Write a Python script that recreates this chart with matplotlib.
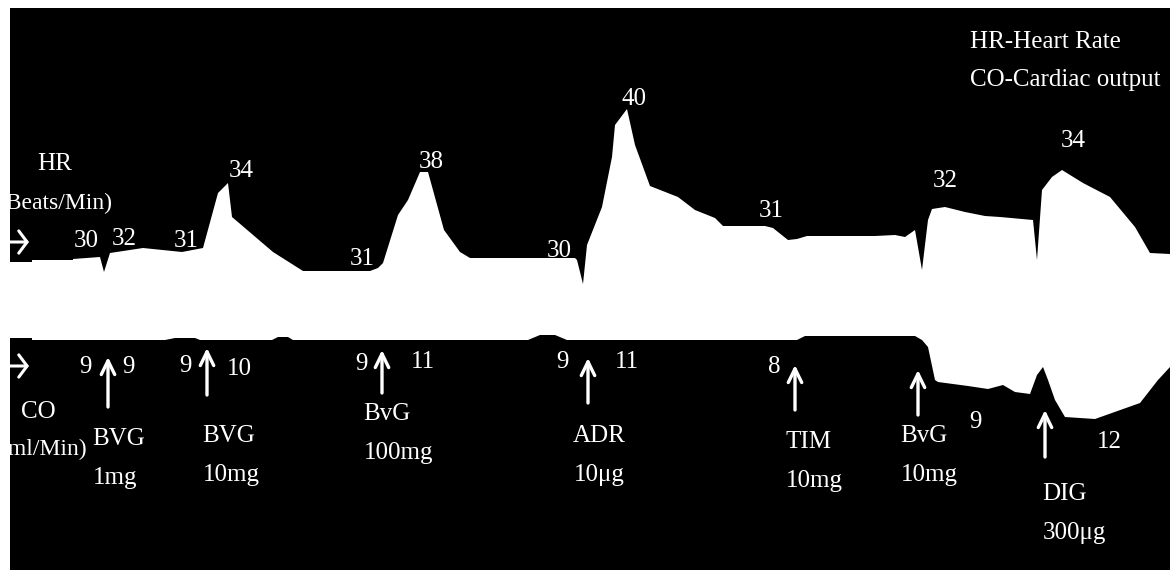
import matplotlib
matplotlib.use("Agg")
import matplotlib.pyplot as plt
import numpy as np

# ---------------- data (trace) ----------------
# time axis of the chart recorder (arbitrary units) and trace level (recorder units, top = 8, bottom = 570)
hr_time = [10, 32, 32, 73, 73, 100, 104, 110, 143, 182, 203, 218, 228, 232, 273, 303,
           370, 378, 383, 398, 408, 420, 428, 444, 460, 470, 575, 577, 583, 587, 602,
           612, 615, 627, 635, 650, 678, 695, 715, 723, 765, 773, 788, 797, 807, 875,
           895, 905, 915, 922, 928, 932, 945, 965, 985, 1000, 1033, 1037, 1042, 1052,
           1062, 1083, 1110, 1135, 1150, 1170]
hr_level = [262, 262, 260, 260, 259, 257, 272, 253, 248, 252, 248, 193, 183, 217, 252, 271,
            271, 268, 263, 215, 200, 172, 172, 230, 252, 258, 258, 260, 284, 245, 207,
            157, 125, 109, 145, 186, 197, 210, 218, 226, 226, 228, 240, 239, 236, 236,
            235, 237, 230, 270, 220, 209, 207, 212, 216, 217, 220, 260, 190, 177,
            170, 183, 197, 227, 253, 254]

co_time = [10, 32, 32, 165, 175, 195, 200, 272, 278, 288, 293, 528, 540, 555, 567, 797,
           805, 915, 922, 928, 935, 938, 968, 988, 1003, 1015, 1030, 1037, 1043, 1048,
           1055, 1065, 1095, 1140, 1158, 1170]
co_level = [338, 338, 340, 340, 338, 338, 340, 340, 337, 337, 340, 340, 335, 335, 340, 340,
            336, 336, 340, 347, 380, 382, 386, 389, 385, 392, 394, 375, 367, 380,
            400, 417, 419, 403, 380, 367]

hr_values = ["30", "32", "31", "34", "31", "38", "30", "40", "31", "32", "34"]
co_values = ["9", "9", "9", "10", "9", "11", "9", "11", "8", "9", "12"]
drugs = ["BVG\n1mg", "BVG\n10mg", "BvG\n100mg", "ADR\n10μg", "TIM\n10mg", "BvG\n10mg", "DIG\n300μg"]

# ---------------- layout ----------------
hr_pos = [(86, 247), (124, 245), (186, 247), (241, 177), (362, 265), (431, 168),
          (559, 257), (634, 105), (771, 217), (945, 187), (1073, 147)]
co_pos = [(85, 373), (128, 373), (185, 372), (239, 375), (361, 370), (423, 368),
          (562, 368), (627, 368), (774, 373), (975, 428), (1109, 448)]
drug_text = [(92, 445), (202, 442), (363, 420), (573, 442), (785, 448), (900, 442), (1042, 500)]
drug_arrow = [(108, 407, 357), (207, 395, 348), (382, 393, 350), (588, 403, 358),
              (795, 410, 365), (918, 415, 370), (1045, 457, 410)]

W, H = 1170, 570
fig = plt.figure(figsize=(W / 100, H / 100), dpi=100, facecolor="white")
ax = fig.add_axes([10 / W, 0, (W - 10) / W, (H - 8) / H])
ax.set_facecolor("black")
ax.set_xlim(10, 1170)
ax.set_ylim(570, 8)
ax.set_xticks([])
ax.set_yticks([])
for s in ax.spines.values():
    s.set_visible(False)

# white band between HR trace (top) and CO trace (bottom)
poly_x = np.concatenate([hr_time, co_time[::-1]])
poly_y = np.concatenate([hr_level, co_level[::-1]])
ax.fill(poly_x, poly_y, color="white", lw=0)

FONT = "Liberation Serif"
FS = 18
kw = dict(color="white", family=FONT, fontsize=FS)

for t, (x, y) in zip(hr_values, hr_pos):
    ax.text(x, y, t, ha="center", va="baseline", **kw)
for t, (x, y) in zip(co_values, co_pos):
    ax.text(x, y, t, ha="center", va="baseline", **kw)

for t, (x, y) in zip(drugs, drug_text):
    name, dose = t.split("\n")
    ax.text(x, y, name, ha="left", va="baseline", **kw)
    ax.text(x + 1, y + 39, dose, ha="left", va="baseline", **kw)

arrow_kw = dict(arrowstyle="->,head_length=0.45,head_width=0.22", color="white", lw=2.4,
                shrinkA=0, shrinkB=0, mutation_scale=22)
for x, y0, y1 in drug_arrow:
    ax.annotate("", xy=(x, y1), xytext=(x, y0), arrowprops=arrow_kw)

# axis labels on the left (partly cut by the frame, as in the original)
side_kw = dict(color="white", family=FONT, fontsize=17)
ax.text(55, 170, "HR", ha="center", va="baseline", **kw)
ax.text(112, 209, "(Beats/Min)", ha="right", va="baseline", clip_on=True, **side_kw)
ax.text(38, 418, "CO", ha="center", va="baseline", **kw)
ax.text(87, 455, "(ml/Min)", ha="right", va="baseline", clip_on=True, **side_kw)
for yy in (242, 366):
    ann = ax.annotate("", xy=(29, yy), xytext=(2, yy),
                      arrowprops=dict(arrowstyle="->,head_length=0.3,head_width=0.4",
                                      color="white", lw=2.2, shrinkA=0, shrinkB=0,
                                      mutation_scale=20),
                      annotation_clip=False)
    ann.arrow_patch.set_clip_on(True)

# key at the top right
ax.text(970, 48, "HR-Heart Rate", ha="left", va="baseline", **kw)
ax.text(970, 86, "CO-Cardiac output", ha="left", va="baseline", **kw)

fig.savefig("out.png", dpi=100, facecolor="white")
